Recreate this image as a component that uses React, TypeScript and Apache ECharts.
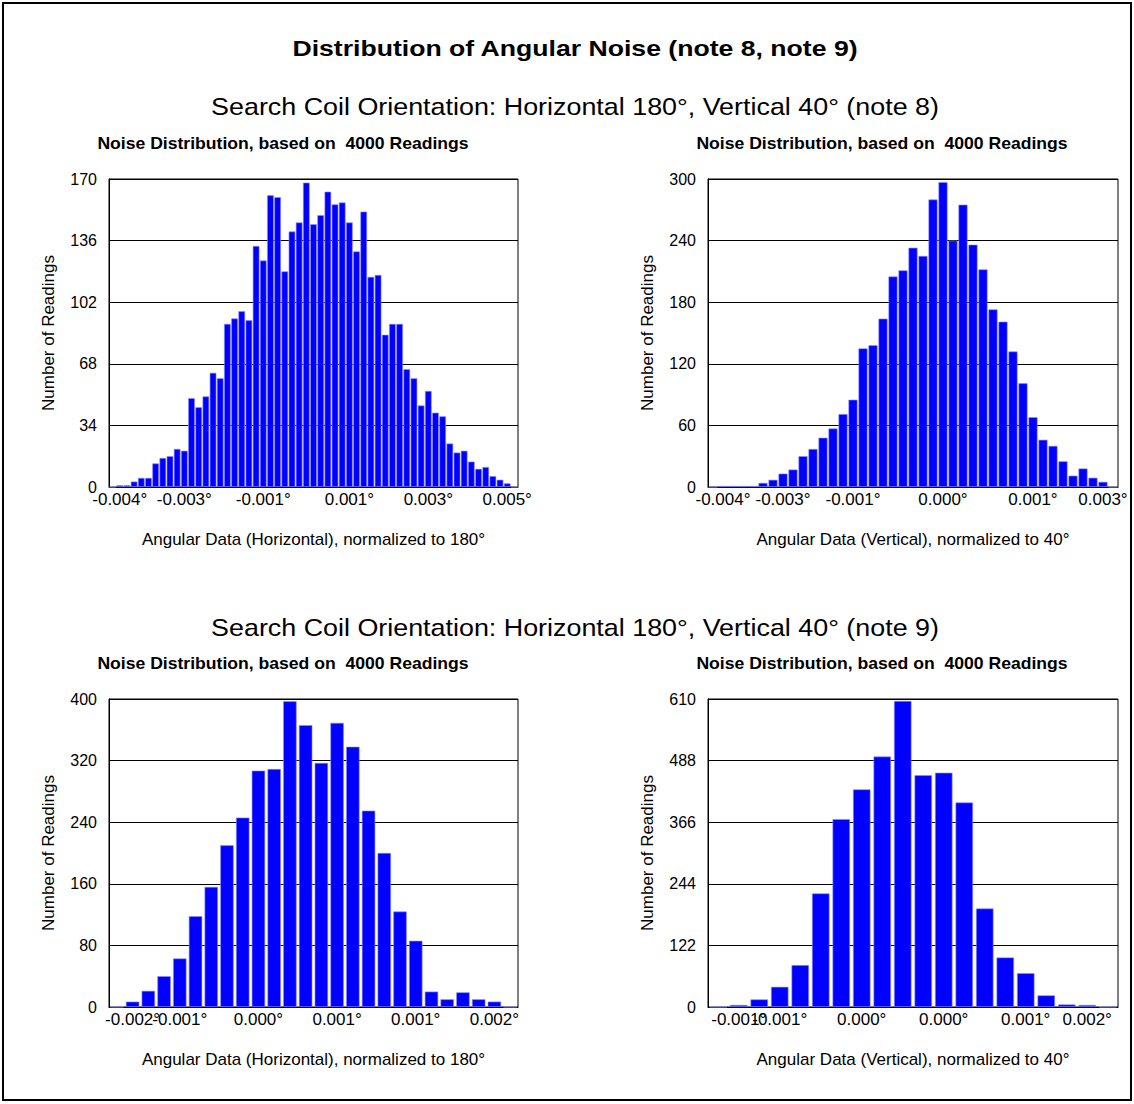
import React, { useEffect, useRef } from "react";
import * as echarts from "echarts";

const FONT = "'Liberation Sans', Arial, Helvetica, sans-serif";

const mainTitle = "Distribution of Angular Noise (note 8, note 9)";
const sectionTitles = [
  "Search Coil Orientation: Horizontal 180°, Vertical 40° (note 8)",
  "Search Coil Orientation: Horizontal 180°, Vertical 40° (note 9)",
];
const panelTitle = "Noise Distribution, based on  4000 Readings";
const yAxisName = "Number of Readings";
const xAxisNames = [
  "Angular Data (Horizontal), normalized to 180°",
  "Angular Data (Vertical), normalized to 40°",
  "Angular Data (Horizontal), normalized to 180°",
  "Angular Data (Vertical), normalized to 40°",
];

// Histogram counts per bin
const counts1 = [0, 1, 1, 3, 5, 5, 13, 16, 17, 21, 20, 49, 44, 50, 63, 60, 90, 93, 97, 92, 133, 125, 161, 160, 119, 141, 146, 168, 145, 150, 163, 156, 157, 146, 130, 152, 116, 117, 84, 90, 90, 65, 60, 45, 53, 41, 39, 24, 19, 20, 14, 10, 11, 6, 4, 2, 0];
const counts2 = [0, 1, 1, 1, 1, 4, 7, 13, 17, 30, 37, 48, 57, 71, 85, 135, 138, 164, 205, 211, 233, 225, 280, 297, 240, 275, 236, 212, 173, 161, 132, 101, 68, 46, 40, 25, 11, 18, 9, 5, 0];
const counts3 = [0, 7, 21, 40, 63, 118, 156, 210, 246, 307, 309, 397, 366, 317, 369, 338, 255, 200, 124, 86, 20, 10, 19, 10, 7, 0];
const counts4 = [0, 4, 15, 40, 83, 225, 372, 431, 496, 606, 459, 464, 405, 195, 98, 67, 23, 5, 4, 0];

// Category positions (bin index) and text of the x tick labels
const tickIdx1 = [1, 10, 21, 33, 44, 55];
const tickLbl1 = ["-0.004°", "-0.003°", "-0.001°", "0.001°", "0.003°", "0.005°"];
const tickIdx2 = [1, 7, 14, 23, 32, 39];
const tickLbl2 = ["-0.004°", "-0.003°", "-0.001°", "0.000°", "0.001°", "0.003°"];
const tickIdx3 = [1, 4, 9, 14, 19, 24];
const tickLbl3 = ["-0.002°", "-0.001°", "0.000°", "0.001°", "0.001°", "0.002°"];
const tickIdx4 = [1, 3, 7, 11, 15, 18];
const tickLbl4 = ["-0.001°", "-0.001°", "0.000°", "0.000°", "0.001°", "0.002°"];

// y axis scales: max and step
const yMax = [170, 300, 400, 610];
const yStep = [34, 60, 80, 122];

const countsAll = [counts1, counts2, counts3, counts4];
const tickIdxAll = [tickIdx1, tickIdx2, tickIdx3, tickIdx4];
const tickLblAll = [tickLbl1, tickLbl2, tickLbl3, tickLbl4];
const barGaps = ["8%", "10%", "15%", "15%"];

const gridPos = [
  { left: 109, top: 179, width: 409, height: 308 },
  { left: 708, top: 179, width: 410, height: 308 },
  { left: 109, top: 699, width: 409, height: 308 },
  { left: 708, top: 699, width: 410, height: 308 },
];

export default function App() {
  const ref = useRef<HTMLDivElement>(null);
  useEffect(() => {
    document.body.style.margin = "0";
    const chart = echarts.init(ref.current!, null, { renderer: "svg" });

    const grids = gridPos.map((g) => ({
      ...g,
      show: true,
      borderColor: "#000",
      borderWidth: 1,
      backgroundColor: "transparent",
      containLabel: false,
      outerBoundsMode: "none",
    }));

    // Two x axes per grid: the main one shows the even tick labels,
    // a second (line-less) one shows the odd ones, so neighbours that
    // touch are never hidden by the library's overlap logic.
    const xAxes: any[] = [];
    countsAll.forEach((c, i) => {
      const idx = tickIdxAll[i];
      const lbl = tickLblAll[i];
      const cats = c.map((_, k) => String(k));
      [0, 1].forEach((parity) => {
        const mine = idx.filter((_, p) => p % 2 === parity);
        xAxes.push({
          type: "category",
          gridIndex: i,
          position: "bottom",
          data: cats,
          boundaryGap: true,
          axisLine: { show: parity === 0, lineStyle: { color: "#000", width: 1 } },
          axisTick: { show: false },
          splitLine: { show: false },
          axisLabel: {
            interval: (index: number) => mine.includes(index),
            formatter: (_v: string, index: number) => {
              const p = idx.indexOf(index);
              return p >= 0 ? lbl[p] : "";
            },
            color: "#000",
            fontFamily: FONT,
            fontSize: 17,
            margin: 4,
            hideOverlap: false,
            showMinLabel: true,
            showMaxLabel: true,
          },
          name: parity === 0 ? xAxisNames[i] : "",
          nameLocation: "middle",
          nameGap: 44,
          nameTextStyle: { color: "#000", fontFamily: FONT, fontSize: 17 },
        });
      });
    });

    const yAxes = countsAll.map((_, i) => ({
      type: "value",
      gridIndex: i,
      min: 0,
      max: yMax[i],
      interval: yStep[i],
      axisLine: { show: true, lineStyle: { color: "#000", width: 1 } },
      axisTick: { show: false },
      splitLine: { show: true, lineStyle: { color: "#000", width: 1 } },
      axisLabel: { color: "#000", fontFamily: FONT, fontSize: 16, margin: 12 },
      name: yAxisName,
      nameLocation: "middle",
      nameGap: 52,
      nameRotate: 90,
      nameTextStyle: { color: "#000", fontFamily: FONT, fontSize: 17 },
    }));

    const series = countsAll.map((c, i) => ({
      type: "bar",
      xAxisIndex: i * 2,
      yAxisIndex: i,
      data: c,
      barCategoryGap: barGaps[i],
      itemStyle: { color: "#0000FF", borderColor: "#8c8cff", borderWidth: 0.6 },
    }));

    const txt = (text: string, x: number, y: number, size: number, bold: boolean, sx: number) => ({
      type: "text",
      x,
      y,
      scaleX: sx,
      style: {
        text,
        fill: "#000",
        font: `${bold ? "bold " : ""}${size}px ${FONT}`,
        textAlign: "center",
        textVerticalAlign: "middle",
      },
    });

    chart.setOption({
      animation: false,
      backgroundColor: "#fff",
      grid: grids,
      xAxis: xAxes,
      yAxis: yAxes,
      series,
      graphic: [
        {
          type: "rect",
          shape: { x: 3, y: 3, width: 1128, height: 1097 },
          style: { fill: "none", stroke: "#000", lineWidth: 2 },
          silent: true,
        },
        txt(mainTitle, 575, 48, 22, true, 1.21),
        txt(sectionTitles[0], 575, 107, 24, false, 1.12),
        txt(sectionTitles[1], 575, 628, 24, false, 1.12),
        txt(panelTitle, 283, 144, 16, true, 1.1),
        txt(panelTitle, 882, 144, 16, true, 1.1),
        txt(panelTitle, 283, 664, 16, true, 1.1),
        txt(panelTitle, 882, 664, 16, true, 1.1),
      ],
    });
    return () => chart.dispose();
  }, []);
  return <div ref={ref} style={{ width: 1134, height: 1104 }} />;
}
